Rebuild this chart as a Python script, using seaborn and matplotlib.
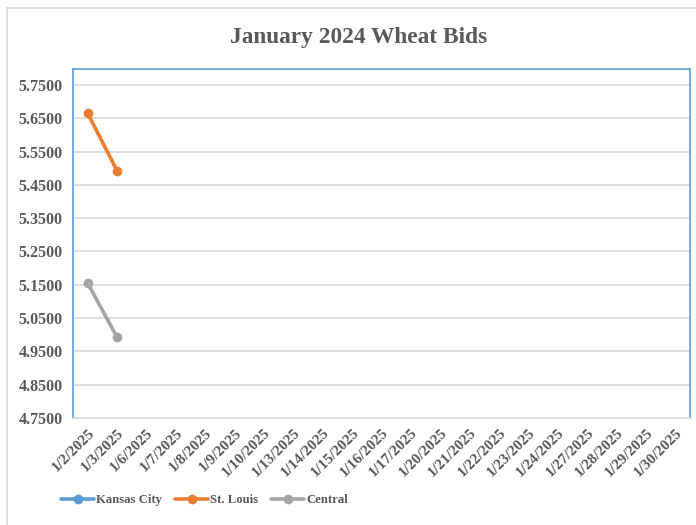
import numpy as np
import pandas as pd
import matplotlib.pyplot as plt
import seaborn as sns
from matplotlib.lines import Line2D

# ---------- data ----------
dates = ["1/2/2025", "1/3/2025", "1/6/2025", "1/7/2025", "1/8/2025", "1/9/2025",
         "1/10/2025", "1/13/2025", "1/14/2025", "1/15/2025", "1/16/2025",
         "1/17/2025", "1/20/2025", "1/21/2025", "1/22/2025", "1/23/2025",
         "1/24/2025", "1/27/2025", "1/28/2025", "1/29/2025", "1/30/2025"]
n_missing = len(dates) - 2
kansas_city = [np.nan] * len(dates)
st_louis = [5.6650, 5.4925] + [np.nan] * n_missing
central = [5.1550, 4.9925] + [np.nan] * n_missing

series_names = ["Kansas City", "St. Louis", "Central"]
colors = {"Kansas City": "#5B9BD5", "St. Louis": "#ED7D31", "Central": "#A5A5A5"}
y_ticks = [4.75, 4.85, 4.95, 5.05, 5.15, 5.25, 5.35, 5.45, 5.55, 5.65, 5.75]

df = pd.DataFrame({"date": dates, "Kansas City": kansas_city,
                   "St. Louis": st_louis, "Central": central})
long = df.melt(id_vars="date", var_name="market", value_name="bid")
long["x"] = long["date"].map({d: i for i, d in enumerate(dates)})

sns.set_style("white")
plt.rcParams["font.family"] = ["Liberation Serif", "DejaVu Serif"]
text_color = "#595959"

fig = plt.figure(figsize=(6.96, 5.25), dpi=100)
ax = fig.add_axes([73 / 696, 1 - 418 / 525, 617 / 696, 349 / 525])

sns.lineplot(data=long.dropna(), x="x", y="bid", hue="market",
             hue_order=series_names, palette=colors, marker="o",
             markersize=7, markeredgewidth=0, linewidth=2.6,
             legend=False, ax=ax)

ax.set_xlim(-0.5, len(dates) - 0.5)
ax.set_ylim(4.75, 5.798)
ax.set_yticks(y_ticks)
ax.set_yticklabels([f"{v:.4f}" for v in y_ticks], fontsize=11.5,
                   fontweight="bold", color=text_color)
ax.set_xticks(range(len(dates)))
ax.set_xticklabels(dates, rotation=45, ha="right", rotation_mode="anchor",
                   fontsize=11, fontweight="bold", color=text_color)
ax.tick_params(axis="both", length=0, pad=6)
ax.tick_params(axis="y", pad=7.5)
ax.set_xlabel("")
ax.set_ylabel("")
ax.grid(axis="y", color="#D9D9D9", linewidth=1.2)
ax.set_axisbelow(True)
for side in ["left", "top", "right"]:
    ax.spines[side].set_color("#5B9BD5")
    ax.spines[side].set_linewidth(1.2)
ax.spines["bottom"].set_color("#D9D9D9")
ax.spines["bottom"].set_linewidth(1.2)

fig.text(0.515, 1 - 37 / 525, "January 2024 Wheat Bids", ha="center",
         va="center", fontsize=16.8, fontweight="bold", color=text_color)

handles = [Line2D([], [], color=colors[n], linewidth=2.6, marker="o",
                  markersize=7, markeredgewidth=0) for n in series_names]
leg = fig.legend(handles, series_names, loc="center left", ncol=3,
                 bbox_to_anchor=(0.088, 1 - 500 / 525), frameon=False,
                 handlelength=2.6, handletextpad=0.15, columnspacing=1.0,
                 borderaxespad=0, borderpad=0,
                 prop={"size": 9.2, "weight": "bold"})
for t in leg.get_texts():
    t.set_color(text_color)

# outer chart border
fig.add_artist(Line2D([7 / 696, 7 / 696], [0, 1 - 8 / 525],
                      transform=fig.transFigure, color="#D9D9D9", linewidth=1.2))
fig.add_artist(Line2D([7 / 696, 1], [1 - 8 / 525, 1 - 8 / 525],
                      transform=fig.transFigure, color="#D9D9D9", linewidth=1.2))

fig.savefig("out.png", dpi=100)
